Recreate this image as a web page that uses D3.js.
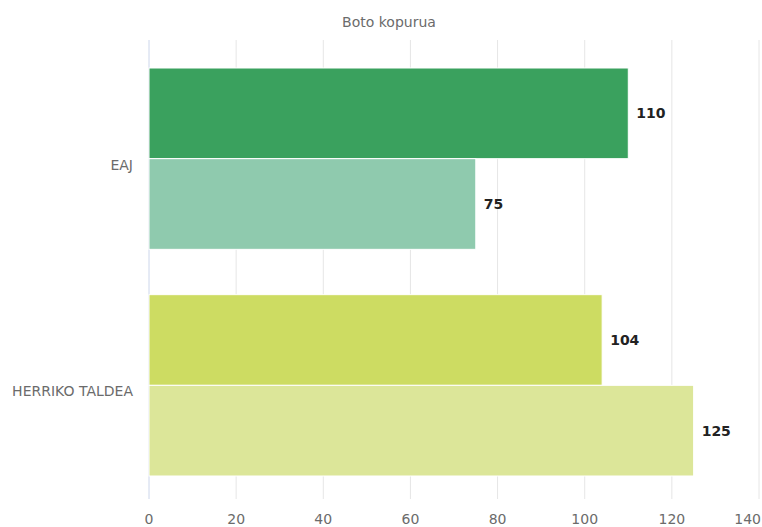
<!DOCTYPE html>
<meta charset="utf-8">
<style>
body{margin:0;background:#fff;}
text{font-family:"DejaVu Sans",sans-serif;}
</style>
<svg id="chart" width="762" height="527"></svg>
<script src="https://d3js.org/d3.v7.min.js"></script>
<script>
// data
const CATEGORIES = ['EAJ', 'HERRIKO TALDEA']
const SERIES = ['a', 'b']
const VALUES = [[110, 75], [104, 125]]
const COLORS = [['#3aa15e', '#8fcaae'], ['#cddc62', '#dce699']]
const TICKS = [0, 20, 40, 60, 80, 100, 120, 140]

let svg = d3.select('#chart')

let x = d3.scaleLinear().domain([0, 140]).range([149, 759])
let y = d3.scaleBand().domain(CATEGORIES).range([68, 476]).paddingInner(0.2).paddingOuter(0)
let ySub = d3.scaleBand().domain(SERIES).range([0, y.bandwidth()])

// subtitle
svg.append('text')
  .attr('x', 389).attr('y', 27)
  .attr('text-anchor', 'middle')
  .style('font-size', '14px').style('fill', '#6b6b6b')
  .text('Boto kopurua')

// gridlines
svg.append('g').selectAll('line').data(TICKS).enter().append('line')
  .attr('x1', d => x(d)).attr('x2', d => x(d))
  .attr('y1', 40).attr('y2', 499)
  .style('stroke', (d, i) => i === 0 ? '#ccd6eb' : '#e6e6e6')
  .style('stroke-width', 1)

// x tick labels, the last one pushed in so it stays inside the frame
svg.append('g').selectAll('text').data(TICKS).enter().append('text')
  .attr('x', (d, i) => i === TICKS.length - 1 ? 761 : x(d))
  .attr('y', 524)
  .attr('text-anchor', (d, i) => i === TICKS.length - 1 ? 'end' : 'middle')
  .style('font-size', '14px').style('fill', '#6b6b6b')
  .text(d => d)

// category labels
svg.append('g').selectAll('text').data(CATEGORIES).enter().append('text')
  .attr('x', 133).attr('y', d => y(d) + y.bandwidth() / 2 + 11)
  .attr('text-anchor', 'end')
  .style('font-size', '14px').style('fill', '#6b6b6b')
  .text(d => d)

// bars
let groups = svg.append('g').selectAll('g').data(CATEGORIES).enter().append('g')
  .attr('transform', d => `translate(0,${y(d)})`)

groups.selectAll('rect')
  .data((d, i) => VALUES[i].map((v, j) => ({v, s: SERIES[j], c: COLORS[i][j]})))
  .enter().append('rect')
  .attr('x', x(0)).attr('y', d => ySub(d.s))
  .attr('width', d => x(d.v) - x(0))
  .attr('height', ySub.bandwidth())
  .style('fill', d => d.c)
  .style('stroke', '#fff').style('stroke-width', 1)

groups.selectAll('text.val')
  .data((d, i) => VALUES[i].map((v, j) => ({v, s: SERIES[j]})))
  .enter().append('text')
  .attr('class', 'val')
  .attr('x', d => x(d.v) + 8)
  .attr('y', d => ySub(d.s) + ySub.bandwidth() / 2 + 5)
  .style('font-size', '14px').style('font-weight', 'bold').style('fill', '#222')
  .text(d => d.v)
</script>
